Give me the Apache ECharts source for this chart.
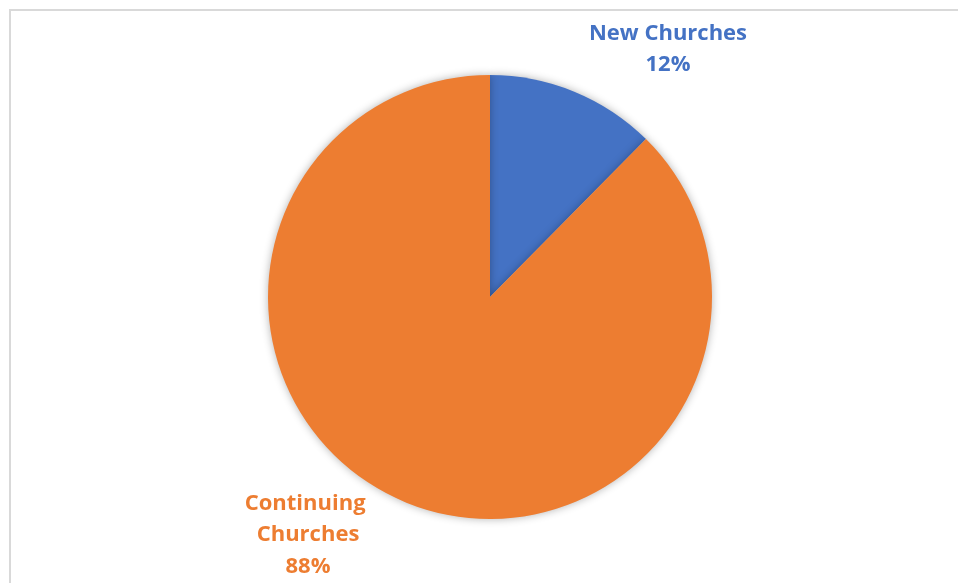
<!DOCTYPE html>
<html>
<head>
<meta charset="utf-8">
<script src="https://cdn.jsdelivr.net/npm/echarts@6/dist/echarts.min.js"></script>
<style>
  html, body { margin: 0; padding: 0; background: #fff; }
  #chart { width: 958px; height: 583px; }
</style>
</head>
<body>
<div id="chart"></div>
<script>
// church share values
const categories = ['New Churches', 'Continuing Churches'];
const values = [12.4, 87.6];
const colors = ['#4472C4', '#ED7D31'];

// where each label block sits (center x, center y)
const labelSpots = [[668, 49], [308, 535]];
const labelWidths = [220, 140];

const chart = echarts.init(document.getElementById('chart'));

const option = {
  animation: false,
  graphic: [{
    type: 'rect',
    shape: { x: 10, y: 10, width: 1200, height: 1200 },
    style: { fill: 'none', stroke: '#d9d9d9', lineWidth: 2 },
    silent: true
  }],
  series: [{
    type: 'pie',
    center: [490, 297],
    radius: 222,
    startAngle: 90,
    clockwise: true,
    itemStyle: {
      borderWidth: 0,
      shadowBlur: 8,
      shadowColor: 'rgba(0,0,0,0.3)'
    },
    label: {
      show: true,
      position: 'outside',
      fontFamily: 'Open Sans',
      fontWeight: 'bold',
      fontSize: 22,
      lineHeight: 31.5,
      align: 'center',
      overflow: 'break',
      formatter: p => p.name + '\n' + Math.round(p.percent) + '%'
    },
    labelLine: { show: false },
    labelLayout: p => ({
      x: labelSpots[p.dataIndex][0],
      y: labelSpots[p.dataIndex][1],
      align: 'center',
      verticalAlign: 'middle'
    }),
    emphasis: { disabled: true },
    data: categories.map((name, i) => ({
      name: name,
      value: values[i],
      itemStyle: { color: colors[i] },
      label: { color: colors[i], width: labelWidths[i] }
    }))
  }]
};

chart.setOption(option);
</script>
</body>
</html>
